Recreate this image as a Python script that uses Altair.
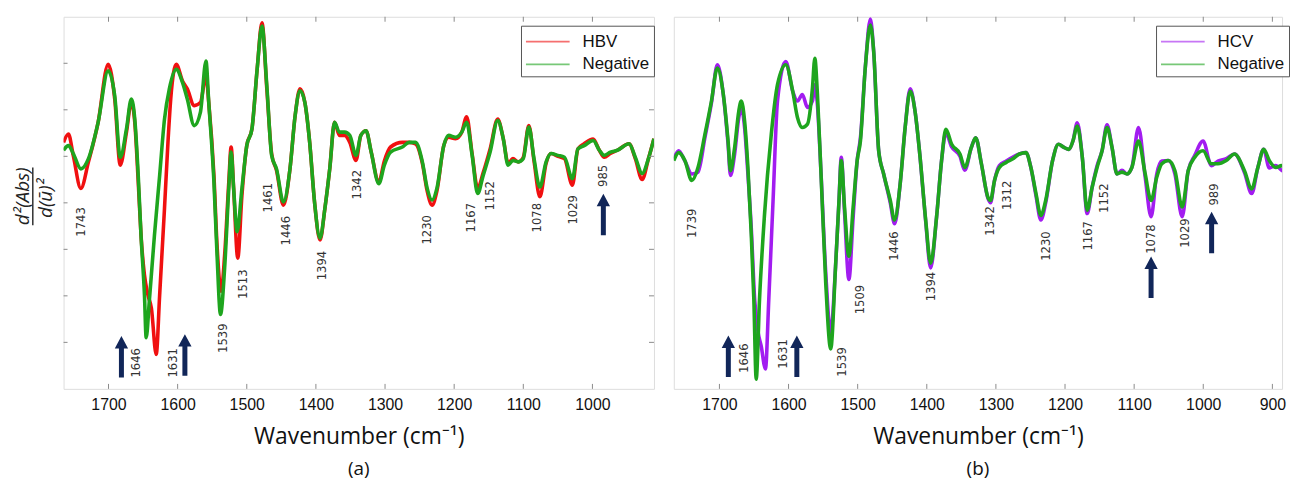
import altair as alt
import pandas as pd

# ---------------- data ----------------
# panel (a): wavenumber (cm-1), second-derivative value (arbitrary units)
A_NEG = [(1765,1.13),(1758,1.23),(1751,1.06),(1740,0.73),(1729,0.95),(1715,1.73),(1700.5,2.84),(1691,2.30),
         (1683,0.98),(1674,1.59),(1667,2.23),(1662,1.80),(1657,0.59),(1653,-0.69),(1648,-1.98),(1645.5,-2.90),
         (1641,-2.12),(1633.5,-0.69),(1626,0.59),(1619,1.80),(1612,2.45),(1602,2.87),(1593,2.59),(1586,2.23),
         (1576,1.66),(1567,1.95),(1559,3.05),(1555,2.16),(1547.5,0.45),(1543,-1.12),(1538,-2.40),(1532,-1.40),
         (1526,0.31),(1522.6,1.09),(1519,0.31),(1514,-0.62),(1507,0.31),(1500,1.23),(1492.5,1.59),(1485,2.87),
         (1478,3.80),(1471,2.52),(1464,1.02),(1457,0.73),(1447,0.02),(1437.5,0.73),(1430,1.88),(1423,2.41),
         (1416,2.16),(1409,1.30),(1402,0.02),(1394,-0.76),(1387,-0.12),(1380,0.73),(1373,1.73),(1366,1.52),
         (1358.5,1.52),(1351,1.45),(1342,1.02),(1335,1.45),(1327.5,1.55),(1320,1.09),(1309,0.41),(1301,0.81),
         (1292,1.09),(1275,1.20),(1265,1.30),(1256,1.30),(1246,0.88),(1239,0.31),(1232,0.06),(1225,0.31),
         (1215,1.23),(1208,1.45),(1198,1.41),(1189,1.52),(1182,1.73),(1174,1.02),(1166,0.20),(1158,0.59),
         (1148,1.09),(1137,1.77),(1129,1.38),(1122,0.81),(1115,0.91),(1107.5,0.88),(1100,0.95),(1092,1.63),
         (1084.5,0.95),(1076,0.34),(1067,0.88),(1060,1.06),(1050,1.02),(1040.5,0.98),(1029,0.52),(1021,1.16),
         (1012,1.23),(999,1.34),(990,1.13),(983,1.02),(974,1.09),(964,1.13),(947,1.27),(938,0.98),(928,0.63),
         (919,0.95),(911,1.38)]
A_HBV = [(1765,1.30),(1758,1.48),(1751,1.02),(1740,0.31),(1729,0.88),(1715,1.73),(1700.5,2.98),(1691,2.23),
         (1683,0.81),(1674,1.52),(1667,2.16),(1662,1.73),(1657,0.45),(1653,-0.69),(1648,-1.55),(1643,-1.98),
         (1638,-2.26),(1631,-3.26),(1626,-1.98),(1619,-0.12),(1614,1.30),(1610,2.23),(1602,2.98),(1593,2.62),
         (1586,2.45),(1576,2.09),(1567,2.16),(1559,2.73),(1555,2.16),(1547.5,0.59),(1543,-0.91),(1537,-1.90),
         (1532,-1.12),(1526,0.45),(1522.6,1.20),(1519,0.31),(1513,-1.19),(1507,0.16),(1500,1.23),(1492.5,1.59),
         (1485,2.87),(1478,3.87),(1471,2.45),(1464,1.05),(1457,0.70),(1447,-0.05),(1437.5,0.73),(1430,1.88),
         (1423,2.45),(1416,2.16),(1409,1.30),(1402,0.02),(1394,-0.80),(1387,-0.12),(1380,0.73),(1373,1.73),
         (1366,1.45),(1358.5,1.45),(1351,1.30),(1342,0.91),(1335,1.45),(1327.5,1.55),(1320,1.09),(1309,0.45),
         (1301,0.90),(1292,1.20),(1275,1.30),(1265,1.30),(1256,1.27),(1246,0.85),(1239,0.25),(1232,-0.05),
         (1225,0.25),(1215,1.23),(1208,1.41),(1198,1.38),(1189,1.52),(1182,1.85),(1174,1.05),(1166,0.31),
         (1158,0.65),(1148,1.16),(1137,1.80),(1129,1.38),(1122,0.85),(1115,0.95),(1107.5,0.88),(1100,0.98),
         (1092,1.66),(1084.5,0.90),(1076,0.13),(1067,0.85),(1060,1.06),(1050,1.00),(1040.5,0.95),(1029,0.38),
         (1021,1.16),(1012,1.27),(999,1.37),(990,1.13),(983,0.98),(974,1.06),(964,1.13),(947,1.27),(938,0.95),
         (928,0.50),(919,0.95),(911,1.38)]

# panel (b)
B_NEG = [(1766,0.91),(1759,1.08),(1750,0.91),(1740,0.48),(1731,0.76),(1721,1.47),(1711.5,2.19),(1703,2.90),
         (1695,2.40),(1687.5,1.33),(1684,0.69),(1678,1.19),(1672,1.97),(1668.4,2.19),(1663.6,1.76),(1658.8,0.76),
         (1654,-0.66),(1650.2,-2.08),(1646.8,-3.79),(1642,-2.08),(1635,-0.30),(1625,1.47),(1616,2.54),(1604,2.97),
         (1594,2.40),(1587,1.83),(1580,1.62),(1572.6,1.69),(1565.4,2.47),(1562,3.11),(1558.2,2.33),(1553.4,0.76),
         (1546.2,-1.72),(1539,-3.14),(1532,-1.37),(1527,0.05),(1523.7,0.91),(1519,-0.09),(1512.7,-1.15),
         (1506.5,-0.09),(1500.7,0.91),(1496,1.33),(1489,2.90),(1481.6,3.82),(1476.8,3.25),(1469.6,1.12),
         (1462.4,0.62),(1452.8,0.05),(1446.6,-0.37),(1438.5,0.41),(1431.3,1.62),(1424,2.40),(1417,1.97),
         (1409.7,0.98),(1401.6,-0.37),(1394.4,-1.30),(1385.8,-0.30),(1378.6,0.91),(1372.4,1.58),(1364,1.26),
         (1352,1.05),(1345,0.76),(1335.5,1.19),(1329.3,1.40),(1321,0.84),(1311.6,0.12),(1307.8,0.05),(1302,0.48),
         (1295,0.76),(1285,0.87),(1276,0.94),(1266,1.05),(1256.5,1.08),(1249.4,0.76),(1242,0.20),(1235,-0.27),
         (1228,0.05),(1218,0.91),(1209.6,1.26),(1201.5,1.19),(1194.3,1.15),(1188.5,1.33),(1182.3,1.65),
         (1175,0.98),(1168,-0.16),(1160.7,0.34),(1153.6,0.76),(1146.4,1.12),(1139.2,1.62),(1132,1.19),
         (1124.8,0.62),(1117.6,0.66),(1110.4,0.62),(1103.3,0.76),(1093.7,1.33),(1084,0.62),(1075.5,0.05),
         (1067.3,0.55),(1060,0.84),(1050.6,0.91),(1041,0.69),(1030.5,-0.09),(1021.8,0.69),(1012.3,0.98),
         (1000.3,1.12),(988.3,0.84),(978.7,0.84),(966.7,0.91),(954.8,1.05),(940.4,0.69),(930,0.30),(921,0.76),
         (912.6,1.15),(904.5,0.91),(895,0.76),(886.7,0.80),(878,0.69),(871,1.15),(866.6,1.62)]
B_HCV = [(1766,0.95),(1759,1.12),(1750,0.90),(1740,0.62),(1731,0.66),(1721,1.40),(1711.5,2.15),(1703,2.97),
         (1695,2.40),(1687.5,1.26),(1684,0.59),(1678,1.05),(1672,1.83),(1668.4,2.05),(1663.6,1.62),(1658.8,0.62),
         (1654,-0.52),(1649,-2.08),(1644,-2.79),(1639.7,-3.07),(1633.4,-3.57),(1628.6,-2.08),(1622.4,0.05),
         (1616,2.19),(1604,3.04),(1594,2.40),(1587,2.19),(1580,2.33),(1572.6,2.05),(1565.4,2.19),(1562,2.54),
         (1558.2,2.10),(1553.4,0.76),(1546.2,-1.50),(1539,-2.79),(1532,-1.37),(1527,0.05),(1523.7,0.98),
         (1519,-0.20),(1512.7,-1.65),(1506.5,-0.30),(1500.7,0.91),(1496,1.40),(1489,2.90),(1481.6,3.95),
         (1476.8,3.25),(1469.6,1.12),(1462.4,0.62),(1452.8,0.0),(1446.6,-0.45),(1438.5,0.41),(1431.3,1.62),
         (1424,2.45),(1417,1.97),(1409.7,0.98),(1401.6,-0.40),(1394.4,-1.40),(1385.8,-0.30),(1378.6,0.91),
         (1372.4,1.50),(1364,1.20),(1352,1.00),(1345,0.70),(1335.5,1.19),(1329.3,1.40),(1321,0.84),
         (1311.6,0.10),(1307.8,0.0),(1302,0.48),(1295,0.80),(1285,0.90),(1276,0.98),(1266,1.05),(1256.5,1.08),
         (1249.4,0.76),(1242,0.15),(1235,-0.37),(1228,0.0),(1218,0.91),(1209.6,1.26),(1201.5,1.19),
         (1194.3,1.15),(1188.5,1.33),(1182.3,1.72),(1175,0.98),(1168,-0.23),(1160.7,0.34),(1153.6,0.80),
         (1146.4,1.12),(1139.2,1.68),(1132,1.19),(1124.8,0.62),(1117.6,0.70),(1110.4,0.62),(1103.3,0.76),
         (1093.7,1.62),(1084,0.55),(1075.5,-0.30),(1067.3,0.62),(1060,0.90),(1050.6,0.91),(1041,0.62),
         (1030.5,-0.30),(1021.8,0.69),(1012.3,1.02),(1000.3,1.33),(988.3,0.80),(978.7,0.90),(966.7,0.95),
         (954.8,1.05),(940.4,0.65),(930,0.20),(921,0.76),(912.6,1.15),(904.5,0.75),(895,0.80),(886.7,0.70),
         (878,0.65),(871,1.15),(866.6,1.62)]

A_SERIES = ["HBV", "Negative"]
B_SERIES = ["HCV", "Negative"]
A_COLORS = ["#f01010", "#1ea51e"]
B_COLORS = ["#a21cf0", "#1ea51e"]

A_PEAK_TEXT = ["1743", "1646", "1631", "1539", "1513", "1461", "1446", "1394", "1342", "1230", "1167", "1152", "1078", "1029", "985"]
A_PEAK_WN = [1740, 1660, 1607, 1534, 1505, 1469, 1443, 1391.5, 1341, 1239.5, 1175, 1147.5, 1080, 1028.7, 984.2]
A_PEAK_Y = [-0.41, -3.44, -3.44, -2.91, -1.75, 0.11, -0.60, -1.35, 0.39, -0.58, -0.32, 0.15, -0.32, -0.15, 0.58]

B_PEAK_TEXT = ["1739", "1646", "1631", "1539", "1509", "1446", "1394", "1342", "1312", "1230", "1167", "1152", "1078", "1029", "989"]
B_PEAK_WN = [1740, 1664, 1608, 1522, 1496, 1447, 1394, 1308, 1283.6, 1227.6, 1167.3, 1143, 1075.5, 1026.7, 985]
B_PEAK_Y = [-0.44, -3.34, -3.25, -3.42, -2.08, -0.93, -1.80, -0.39, 0.16, -0.93, -0.71, 0.10, -0.78, -0.65, 0.18]

A_ARROW_WN = [1681.3, 1589.5, 984.2]
A_ARROW_Y = [-3.31, -3.27, -0.25]
B_ARROW_WN = [1687.1, 1588.0, 1075.5, 987.9]
B_ARROW_Y = [-3.30, -3.30, -1.60, -0.64]

A_XTICKS = [1700, 1600, 1500, 1400, 1300, 1200, 1100, 1000]
B_XTICKS = [1700, 1600, 1500, 1400, 1300, 1200, 1100, 1000, 900]
Y_TICKS = [-3, -2, -1, 0, 1, 2, 3]

A_DOMAIN = [911, 1765]
B_DOMAIN = [886, 1766]
Y_DOMAIN = [-4, 4]

NAVY = "#112659"
FRAME = "#8a8a8a"
ARROW_PATH = "M0,-1L0.32,-0.40L0.12,-0.40L0.12,1L-0.12,1L-0.12,-0.40L-0.32,-0.40Z"
PEAK_FONT = "Liberation Sans Narrow, DejaVu Sans Condensed, Liberation Sans"

AW, BW, H = 595, 613, 375


def curves(series, pairs_list):
    rows = []
    for name, pairs in zip(series, pairs_list):
        for i, (w, v) in enumerate(pairs):
            rows.append({"series": name, "wn": w, "val": v, "i": i})
    return pd.DataFrame(rows)


def panel(series, colors, pairs_list, peak_text, peak_wn, peak_y, arrow_wn, arrow_y,
          xdomain, xticks, width, tag, legend_x, yticks):
    xs = alt.Scale(domain=xdomain, reverse=True, nice=False, zero=False)
    ys = alt.Scale(domain=Y_DOMAIN, nice=False, zero=False)
    xaxis = alt.Axis(values=xticks, format="d", ticks=False, domain=False, grid=False,
                     labelFont="Liberation Sans", labelFontSize=16, labelColor="#111",
                     labelPadding=8, labelFlush=False,
                     title="Wavenumber (cm⁻¹)", titleFont="Open Sans", titleFontSize=23,
                     titleFontWeight="normal", titleColor="#111", titlePadding=13)
    X = alt.X("wn:Q", scale=xs, axis=xaxis)
    Y = alt.Y("val:Q", scale=ys, axis=None)

    lines = alt.Chart(curves(series, pairs_list)).mark_line(
        strokeWidth=3.6, interpolate="monotone", strokeJoin="round", clip=True
    ).encode(
        x=X, y=Y,
        color=alt.Color("series:N", scale=alt.Scale(domain=series, range=colors),
                        legend=alt.Legend(orient="none", legendX=legend_x, legendY=9, title=None,
                                          symbolType="M-2,0L2,0", symbolSize=484,
                                          symbolStrokeWidth=1.6, symbolOpacity=0.6,
                                          symbolOffset=11, labelOffset=23,
                                          labelFont="Liberation Sans", labelFontSize=17,
                                          labelColor="#111", strokeColor="#555",
                                          fillColor="white", padding=4, rowPadding=3)),
        order="i:Q",
    )

    tick_df = pd.DataFrame({"wn": xticks})
    top_ticks = alt.Chart(tick_df).mark_rule(color=FRAME, strokeWidth=1).encode(
        x=X, y=alt.value(0), y2=alt.value(5))
    bot_ticks = alt.Chart(tick_df).mark_rule(color=FRAME, strokeWidth=1).encode(
        x=X, y=alt.value(H), y2=alt.value(H - 5))

    peaks = alt.Chart(pd.DataFrame({"t": peak_text, "wn": peak_wn, "val": peak_y})).mark_text(
        angle=270, font=PEAK_FONT, fontSize=13, color="#333", align="center", baseline="middle"
    ).encode(x=X, y=Y, text="t:N")

    arrows = alt.Chart(pd.DataFrame({"wn": arrow_wn, "val": arrow_y})).mark_point(
        shape=ARROW_PATH, filled=True, size=1750, color=NAVY, opacity=1, strokeWidth=0
    ).encode(x=X, y=Y)

    layers = [lines, top_ticks, bot_ticks, peaks, arrows]

    if yticks:
        ydf = pd.DataFrame({"val": Y_TICKS})
        layers.append(alt.Chart(ydf).mark_rule(color=FRAME, strokeWidth=1).encode(
            y=Y, x=alt.value(0), x2=alt.value(4)))
        layers.append(alt.Chart(ydf).mark_rule(color=FRAME, strokeWidth=1).encode(
            y=Y, x=alt.value(width - 5), x2=alt.value(width)))
        one = pd.DataFrame({"num": ["d²(Abs)"], "den": ["d(ū)²"]})
        layers.append(alt.Chart(one).mark_text(
            angle=270, font="Open Sans", fontStyle="italic", fontSize=19, color="#222",
            align="center", baseline="middle").encode(
            x=alt.value(-41), y=alt.value(181), text="num:N"))
        layers.append(alt.Chart(one).mark_rule(color="#222", strokeWidth=1.4).encode(
            x=alt.value(-31), y=alt.value(152), y2=alt.value(210)))
        layers.append(alt.Chart(one).mark_text(
            angle=270, font="Open Sans", fontStyle="italic", fontSize=19, color="#222",
            align="center", baseline="middle").encode(
            x=alt.value(-18), y=alt.value(183), text="den:N"))

    return alt.layer(*layers).properties(
        width=width, height=H,
        title=alt.TitleParams(tag, orient="bottom", font="Open Sans", fontSize=19,
                              fontWeight="normal", color="#111", offset=12, anchor="middle"),
    )


pa = panel(A_SERIES, A_COLORS, [A_HBV, A_NEG], A_PEAK_TEXT, A_PEAK_WN, A_PEAK_Y,
           A_ARROW_WN, A_ARROW_Y, A_DOMAIN, A_XTICKS, AW, "(a)", 461, True)
pb = panel(B_SERIES, B_COLORS, [B_HCV, B_NEG], B_PEAK_TEXT, B_PEAK_WN, B_PEAK_Y,
           B_ARROW_WN, B_ARROW_Y, B_DOMAIN, B_XTICKS, BW, "(b)", 486, False)

chart = alt.hconcat(pa, pb, spacing=18).resolve_scale(
    x="independent", y="independent", color="independent"
).resolve_legend(color="independent").properties(
    padding={"left": 5, "top": 6, "right": 0, "bottom": 0}
).configure_view(stroke=FRAME, strokeWidth=1).configure(background="white")

chart.save("out.html", embed_options={"renderer": "svg", "actions": False})
